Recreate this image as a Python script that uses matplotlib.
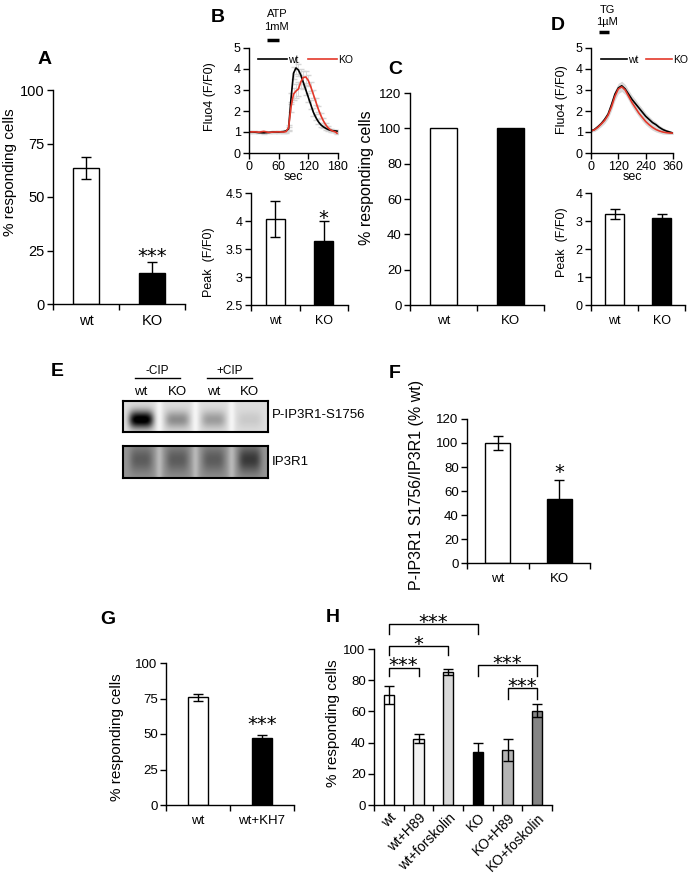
import numpy as np
import matplotlib.pyplot as plt
from matplotlib.ticker import FormatStrFormatter

plt.rcParams['font.family'] = ['Liberation Sans', 'DejaVu Sans']

# ---------------- data ----------------
# A
a_cats = ['wt', 'KO']
a_vals = [63.5, 14.5]
a_errs = [5.0, 5.0]

# B: ATP 1mM traces (Fluo4 F/F0)
b_t = [0, 10, 20, 30, 40, 50, 60, 70, 75, 80, 85, 90, 95, 100, 105, 110, 115,
       120, 125, 130, 135, 140, 145, 150, 155, 160, 165, 170, 175, 178]
b_wt = [1.0, 1.0, 0.97, 0.96, 0.98, 1.0, 1.0, 1.02, 1.05, 1.15, 2.6, 3.8, 4.05,
        3.95, 3.7, 3.35, 3.0, 2.65, 2.3, 1.95, 1.7, 1.5, 1.35, 1.25, 1.18, 1.12,
        1.08, 1.06, 1.05, 1.04]
b_ko = [1.0, 1.01, 0.99, 1.03, 0.98, 1.0, 1.01, 1.0, 1.02, 1.2, 2.2, 2.8, 2.95,
        3.05, 3.4, 3.6, 3.62, 3.45, 3.15, 2.8, 2.45, 2.1, 1.8, 1.55, 1.35, 1.2,
        1.1, 1.04, 1.0, 0.94]
b_wt_err = [0.04, 0.04, 0.04, 0.04, 0.04, 0.04, 0.04, 0.05, 0.05, 0.1, 0.25, 0.3,
            0.3, 0.3, 0.3, 0.28, 0.25, 0.22, 0.2, 0.18, 0.15, 0.12, 0.1, 0.08, 0.07,
            0.06, 0.06, 0.05, 0.05, 0.05]
b_ko_err = [0.04, 0.04, 0.04, 0.04, 0.04, 0.04, 0.04, 0.05, 0.05, 0.12, 0.25, 0.3,
            0.32, 0.32, 0.3, 0.3, 0.28, 0.25, 0.22, 0.2, 0.18, 0.15, 0.12, 0.1, 0.08,
            0.07, 0.06, 0.05, 0.05, 0.05]
b_peak = [4.03, 3.64]
b_peak_err = [0.32, 0.36]
atp_window = (36, 61)

# C
c_vals = [100, 100]

# D: TG 1uM traces
d_t = [0, 15, 30, 45, 60, 75, 90, 105, 120, 135, 150, 165, 180, 195, 210, 225,
       240, 255, 270, 285, 300, 315, 330, 345, 360]
d_wt = [1.05, 1.12, 1.25, 1.4, 1.6, 1.85, 2.3, 2.8, 3.1, 3.2, 3.05, 2.8, 2.55,
        2.35, 2.15, 1.95, 1.75, 1.6, 1.45, 1.35, 1.22, 1.12, 1.05, 1.0, 0.95]
d_ko = [1.05, 1.1, 1.22, 1.38, 1.55, 1.8, 2.2, 2.7, 3.05, 3.15, 3.0, 2.7, 2.4,
        2.15, 1.9, 1.7, 1.5, 1.35, 1.22, 1.12, 1.05, 1.0, 0.97, 0.95, 0.95]
d_err = [0.05, 0.08, 0.1, 0.12, 0.14, 0.16, 0.18, 0.2, 0.22, 0.22, 0.22, 0.2,
         0.2, 0.2, 0.18, 0.18, 0.16, 0.15, 0.14, 0.12, 0.1, 0.1, 0.08, 0.07, 0.06]
d_peak = [3.25, 3.12]
d_peak_err = [0.18, 0.12]
tg_window = (35, 80)

# E: western blot lane intensities
e_lanes = ['wt', 'KO', 'wt', 'KO']
e_groups = ['-CIP', '+CIP']
e_phospho = [0.95, 0.32, 0.26, 0.08]
e_total = [0.22, 0.22, 0.22, 0.36]

# F
f_vals = [100, 53]
f_errs = [6, 16]

# G
g_cats = ['wt', 'wt+KH7']
g_vals = [76, 47]
g_errs = [2.5, 2.5]

# H
h_cats = ['wt', 'wt+H89', 'wt+forskolin', 'KO', 'KO+H89', 'KO+foskolin']
h_vals = [70.5, 42.5, 85.5, 34, 35.5, 60.5]
h_errs = [5.5, 2.8, 2.0, 6.0, 7.0, 4.0]
h_pairs = [(0, 3, '***'), (0, 2, '*'), (0, 1, '***'), (3, 5, '***'), (4, 5, '***')]

# ---------------- layout helpers ----------------
W, H = 694, 874
fig = plt.figure(figsize=(W / 100, H / 100), dpi=100)
RED = '#e4382a'


def px_axes(l, t, r, b):
    return fig.add_axes([l / W, 1 - b / H, (r - l) / W, (b - t) / H])


def ftxt(x, y, s, **kw):
    kw.setdefault('ha', 'center')
    kw.setdefault('va', 'center')
    fig.text(x / W, 1 - y / H, s, **kw)


def style(ax, fs):
    for s in ['top', 'right']:
        ax.spines[s].set_visible(False)
    for s in ['left', 'bottom']:
        ax.spines[s].set_linewidth(1.0)
    ax.tick_params(axis='y', direction='out', length=4, width=1, labelsize=fs, pad=2)
    ax.tick_params(axis='x', direction='out', length=4, width=1, labelsize=fs, pad=2)


def bars(ax, cats, vals, errs, colors, width, ylim, yticks, fs, pad=7):
    style(ax, fs)
    x = np.arange(len(cats))
    ax.bar(x, vals, width, color=colors, edgecolor='black', linewidth=1, zorder=2)
    if errs is not None:
        ax.errorbar(x, vals, yerr=errs, fmt='none', ecolor='black', elinewidth=1,
                    capsize=3.5, capthick=1, zorder=3)
    ax.set_xlim(-0.5, len(cats) - 0.5)
    ax.set_ylim(*ylim)
    ax.set_yticks(yticks)
    ax.yaxis.set_major_formatter(FormatStrFormatter('%g'))
    ax.set_xticks(x)
    ax.set_xticklabels(cats)
    ax.set_xticks(np.arange(len(cats) + 1) - 0.5, minor=True)
    ax.tick_params(axis='x', which='major', length=0, pad=pad)
    ax.tick_params(axis='x', which='minor', length=4, width=1, direction='out')


def star(ax, x, yc, s, fs=14):
    # places asterisks so that their ink is centred at yc (data units)
    ax.annotate(s, xy=(x, yc), xytext=(0, -0.55 * fs), textcoords='offset points',
                ha='center', va='baseline', fontsize=fs, family='DejaVu Sans',
                annotation_clip=False)


# ---------------- A ----------------
ax = px_axes(53, 90, 185, 304)
bars(ax, a_cats, a_vals, a_errs, ['white', 'black'], 0.4, (0, 100), [0, 25, 50, 75, 100], 10.5)
star(ax, 1, 24.5, '***')
ftxt(10, 172, '% responding cells', rotation=90, fontsize=11)
ftxt(45, 60, 'A', fontsize=14, fontweight='bold')

# ---------------- B ----------------
ax = px_axes(249, 48, 338, 153)
style(ax, 9)
ax.errorbar(b_t, b_wt, yerr=b_wt_err, fmt='none', ecolor='#d6d6d6', elinewidth=0.6, capsize=2)
ax.errorbar(b_t, b_ko, yerr=b_ko_err, fmt='none', ecolor='#d6d6d6', elinewidth=0.6, capsize=2)
ax.plot(b_t, b_wt, color='black', lw=1.2, label='wt')
ax.plot(b_t, b_ko, color=RED, lw=1.2, label='KO')
ax.set_xlim(0, 180)
ax.set_ylim(0, 5)
ax.set_xticks([0, 60, 120, 180])
ax.set_yticks([0, 1, 2, 3, 4, 5])
ax.set_xlabel('sec', fontsize=9, labelpad=-2)
ax.legend(loc='center left', bbox_to_anchor=(0.1, 0.885), ncol=2, frameon=False,
          fontsize=7.5, handlelength=2.8, handletextpad=0.1, columnspacing=0.9,
          borderaxespad=0, borderpad=0)
ax.plot(atp_window, [5.38, 5.38], color='black', lw=2.5, clip_on=False,
        solid_capstyle='butt')
ftxt(277, 14, 'ATP', fontsize=8)
ftxt(276, 27, '1mM', fontsize=8)
ftxt(210, 97, 'Fluo4 (F/F0)', rotation=90, fontsize=9)
ftxt(218, 17, 'B', fontsize=14, fontweight='bold')

ax = px_axes(251, 193, 348, 305)
bars(ax, a_cats, b_peak, b_peak_err, ['white', 'black'], 0.4, (2.5, 4.5),
     [2.5, 3, 3.5, 4, 4.5], 9)
star(ax, 1, 4.14, '*')
ftxt(209, 262, 'Peak  (F/F0)', rotation=90, fontsize=9)

# ---------------- C ----------------
ax = px_axes(410, 93, 544, 305)
bars(ax, a_cats, c_vals, None, ['white', 'black'], 0.39, (0, 120), range(0, 121, 20), 9.5)
ftxt(367, 178, '% responding cells', rotation=90, fontsize=11.5)
ftxt(395, 70, 'C', fontsize=14, fontweight='bold')

# ---------------- D ----------------
ax = px_axes(591, 48, 673, 153)
style(ax, 9)
ax.fill_between(d_t, np.subtract(d_wt, d_err), np.add(d_wt, d_err), color='#d8d8d8', lw=0)
ax.fill_between(d_t, np.subtract(d_ko, d_err), np.add(d_ko, d_err), color='#d8d8d8', lw=0)
ax.plot(d_t, d_wt, color='black', lw=1.2, label='wt')
ax.plot(d_t, d_ko, color=RED, lw=1.2, label='KO')
ax.set_xlim(0, 360)
ax.set_ylim(0, 5)
ax.set_xticks([0, 120, 240, 360])
ax.set_yticks([0, 1, 2, 3, 4, 5])
ax.set_xlabel('sec', fontsize=9, labelpad=-2)
ax.legend(loc='center left', bbox_to_anchor=(0.12, 0.885), ncol=2, frameon=False,
          fontsize=7.5, handlelength=2.5, handletextpad=0.1, columnspacing=0.7,
          borderaxespad=0, borderpad=0)
ax.plot(tg_window, [5.76, 5.76], color='black', lw=2.5, clip_on=False,
        solid_capstyle='butt')
ftxt(607, 10, 'TG', fontsize=8)
ftxt(607, 22, '1\u00b5M', fontsize=8)
ftxt(562, 100, 'Fluo4 (F/F0)', rotation=90, fontsize=9)
ftxt(558, 25, 'D', fontsize=14, fontweight='bold')

ax = px_axes(591, 193, 685, 305)
bars(ax, a_cats, d_peak, d_peak_err, ['white', 'black'], 0.41, (0, 4), [0, 1, 2, 3, 4], 9)
ftxt(562, 242, 'Peak  (F/F0)', rotation=90, fontsize=9)

# ---------------- E ----------------
xs = np.linspace(-0.5, 3.5, 400)
ys = np.linspace(0, 1, 60)


def blot(amps, bg, gap, yc, ysig, xsig):
    img = np.full((len(ys), len(xs)), bg)
    for i, a in enumerate(amps):
        img += a * np.exp(-((xs[None, :] - i) / xsig) ** 4 / 2) \
                 * np.exp(-((ys[:, None] - yc) / ysig) ** 2 / 2)
    for g in [0.5, 1.5, 2.5]:
        img -= gap * np.exp(-((xs[None, :] - g) / 0.07) ** 2 / 2)
    return np.clip(img, 0, 1)


ax1 = px_axes(123, 401, 268, 432)
ax1.imshow(blot(e_phospho, 0.13, 0.09, 0.6, 0.2, 0.28), cmap='gray_r', vmin=0, vmax=1,
           aspect='auto', extent=(-0.5, 3.5, 1, 0), interpolation='bilinear')
ax2 = px_axes(123, 446, 268, 478)
ax2.imshow(blot(e_total, 0.42, 0.14, 0.42, 0.3, 0.26), cmap='gray_r', vmin=0, vmax=1,
           aspect='auto', extent=(-0.5, 3.5, 1, 0), interpolation='bilinear')
for i, lab in enumerate(e_lanes):
    ax1.text(i, -0.3, lab, ha='center', va='center', fontsize=9.5, clip_on=False)
for k, g in enumerate(e_groups):
    ax1.text(2 * k + 0.45, -0.97, g, ha='center', va='center', fontsize=8.5, clip_on=False)
    ax1.plot([2 * k - 0.17, 2 * k + 1.07], [-0.74, -0.74], color='black', lw=1,
             clip_on=False)
for a in (ax1, ax2):
    a.set_xlim(-0.5, 3.5)
    a.set_ylim(1, 0)
    a.set_xticks([])
    a.set_yticks([])
    for s in a.spines.values():
        s.set_linewidth(1.5)
ftxt(272, 415, 'P-IP3R1-S1756', ha='left', fontsize=9.5)
ftxt(272, 462, 'IP3R1', ha='left', fontsize=9.5)
ftxt(57, 372, 'E', fontsize=14, fontweight='bold')

# ---------------- F ----------------
ax = px_axes(467, 419, 590, 563)
bars(ax, a_cats, f_vals, f_errs, ['white', 'black'], 0.41, (0, 120), range(0, 121, 20), 9.5)
star(ax, 1, 80, '*')
ftxt(417, 485, 'P-IP3R1 S1756/IP3R1 (% wt)', rotation=90, fontsize=11.5)
ftxt(395, 373, 'F', fontsize=14, fontweight='bold')

# ---------------- G ----------------
ax = px_axes(166, 663, 294, 805)
bars(ax, g_cats, g_vals, g_errs, ['white', 'black'], 0.31, (0, 100), [0, 25, 50, 75, 100], 9.5)
star(ax, 1, 60, '***')
ftxt(117, 737, '% responding cells', rotation=90, fontsize=11)
ftxt(108, 620, 'G', fontsize=14, fontweight='bold')

# ---------------- H ----------------
ax = px_axes(374, 649, 552, 805)
h_colors = ['white', '#f2f2f2', '#d9d9d9', 'black', '#b4b4b4', '#858585']
bars(ax, h_cats, h_vals, h_errs, h_colors, 0.34, (0, 100), range(0, 101, 20), 9.5, pad=4)
for lab in ax.get_xticklabels():
    lab.set_rotation(45)
    lab.set_ha('right')
    lab.set_va('top')
    lab.set_rotation_mode('anchor')
    lab.set_fontsize(10)
br_top = [116, 102, 88, 89.7, 75]
br_drop = [6.4, 6, 5.3, 7, 7]
for (i, j, s), top, drop in zip(h_pairs, br_top, br_drop):
    ax.plot([i, i, j, j], [top - drop, top, top, top - drop], color='black', lw=1,
            clip_on=False)
    star(ax, (i + j) / 2, top + 4.5, s)
ftxt(333, 723, '% responding cells', rotation=90, fontsize=11)
ftxt(333, 617, 'H', fontsize=14, fontweight='bold')

fig.savefig('out.png', dpi=100)
